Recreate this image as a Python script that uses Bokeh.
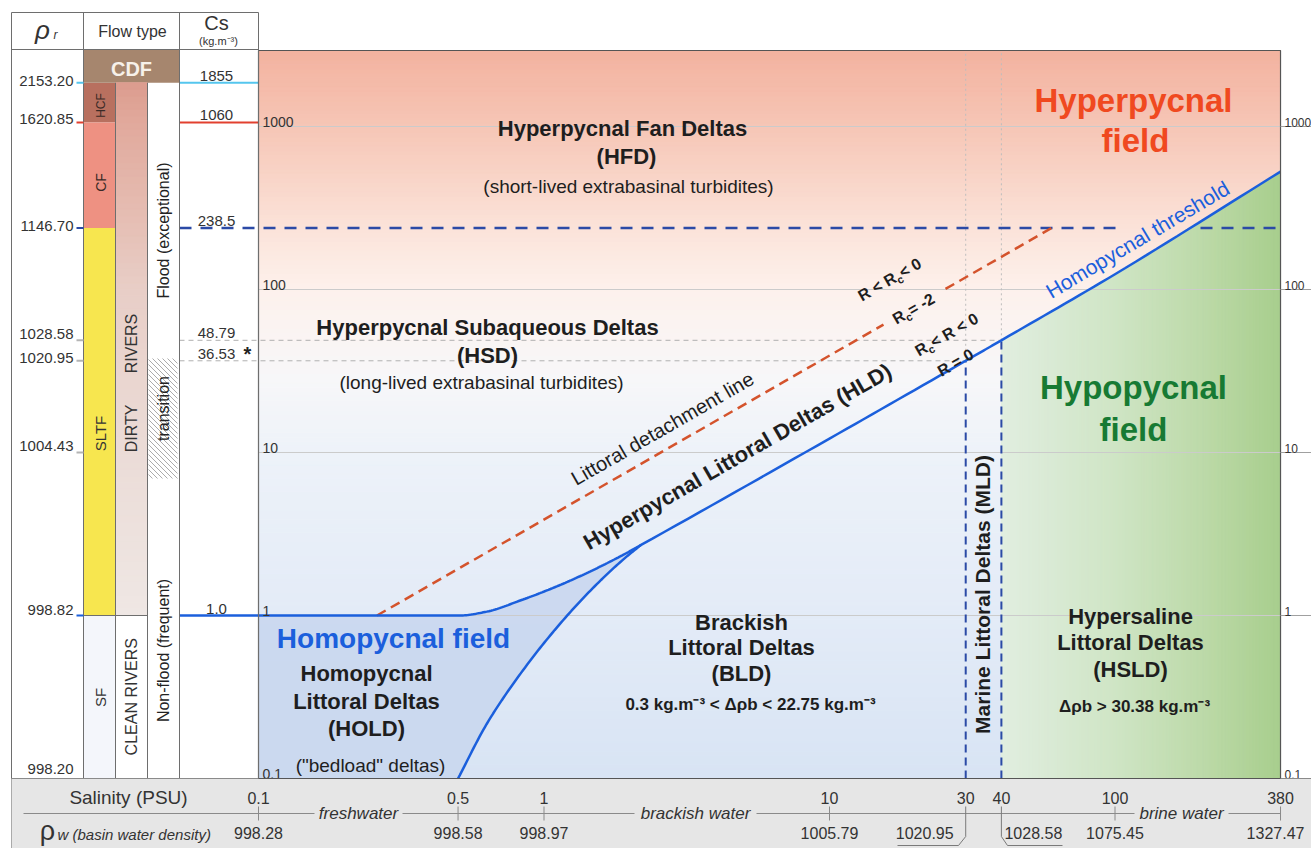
import math
import numpy as np
from bokeh.plotting import figure
from bokeh.models import Range1d
from bokeh.core.properties import value
from bokeh.embed import file_html
from bokeh.resources import INLINE

# ---------------------------------------------------------------- data
# basin-water salinity (PSU) and the matching basin-water density (kg/m3)
salinity_ticks = [0.1, 0.5, 1, 10, 30, 40, 100, 380]
salinity_labels = ["0.1", "0.5", "1", "10", "30", "40", "100", "380"]
rho_w_labels = ["998.28", "998.58", "998.97", "1005.79", "1020.95", "1028.58", "1075.45", "1327.47"]
water_types = ["freshwater", "brackish water", "brine water"]

# sediment concentration axis (Cs, kg/m3)
cs_ticks = [0.1, 1, 10, 100, 1000]
cs_tick_labels = ["0.1", "1", "10", "100", "1000"]

# reference concentrations and the equivalent river (flow) densities
cs_levels = [1855, 1060, 238.5, 48.79, 36.53, 10, 1.0, 0.1]
cs_level_labels = ["1855", "1060", "238.5", "48.79", "36.53", "", "1.0", ""]
rho_r_labels = ["2153.20", "1620.85", "1146.70", "1028.58", "1020.95", "1004.43", "998.82", "998.20"]
level_colors = ["#55c6ee", "#e2402f", "#2b4aa6", "#b4b4b4", "#b4b4b4", "#b4b4b4", "#1b5fdc", "#b4b4b4"]

# flow types by concentration interval
flow_types = ["HCF", "CF", "SLTF", "SF"]
flow_top = [1855, 1060, 238.5, 1.0]
flow_bottom = [1060, 238.5, 1.0, 0.1]
flow_colors = ["#b8705f", "#ee9182", "#f7e64f", "#f4f6fb"]

# homopycnal threshold (R = 0)
threshold_sal = [0.1, 0.3, 0.505, 0.63, 0.83, 1.09, 1.43, 1.88, 2.18, 10, 30, 40, 100, 380]
threshold_cs = [1.0, 1.0, 1.0, 1.056, 1.24, 1.49, 1.84, 2.34, 2.70, 12.17, 36.53, 48.79, 124.1, 528.8]

# lower limit of the homopycnal littoral deltas
hold_sal = [0.50, 0.63, 0.83, 1.09, 1.43, 1.88, 2.18]
hold_cs = [0.1, 0.216, 0.443, 0.814, 1.38, 2.18, 2.70]

# littoral detachment line (Rc = -2)
detach_sal = [0.26, 60.0]
detach_cs = [1.0, 238.5]

# marine littoral deltas limits
mld_sal = [30, 40]
mld_cs = [36.53, 48.79]

# ---------------------------------------------------------------- geometry
W, H = 1311, 848
X0, XPD = 258.0, 285.5      # screen x of S = 0.1, pixels per decade
Y0, YPD = 778.0, 163.0      # screen y of Cs = 0.1, pixels per decade


def fx(px):
    return 10 ** (-1 + (px - X0) / XPD)


def fy(py):
    return 10 ** (-1 + (Y0 - py) / YPD)


def pxs(s):
    return X0 + (math.log10(s) + 1) * XPD


def pyc(c):
    return Y0 - (math.log10(c) + 1) * YPD


def pchip_log(xs, ys, per=16):
    """Smooth monotone curve through the points, in log-log space."""
    x = np.log10(np.asarray(xs, float))
    y = np.log10(np.asarray(ys, float))
    h = np.diff(x)
    d = np.diff(y) / h
    n = len(x)
    m = np.zeros(n)
    m[0], m[-1] = d[0], d[-1]
    for k in range(1, n - 1):
        if d[k - 1] * d[k] <= 0:
            m[k] = 0.0
        else:
            w1, w2 = 2 * h[k] + h[k - 1], h[k] + 2 * h[k - 1]
            m[k] = (w1 + w2) / (w1 / d[k - 1] + w2 / d[k])
    ox, oy = [], []
    for k in range(n - 1):
        for t in np.linspace(0, 1, per, endpoint=False):
            h00 = 2 * t ** 3 - 3 * t ** 2 + 1
            h10 = t ** 3 - 2 * t ** 2 + t
            h01 = -2 * t ** 3 + 3 * t ** 2
            h11 = t ** 3 - t ** 2
            ox.append(x[k] + t * h[k])
            oy.append(h00 * y[k] + h10 * h[k] * m[k] + h01 * y[k + 1] + h11 * h[k] * m[k + 1])
    ox.append(x[-1])
    oy.append(y[-1])
    return list(10 ** np.array(ox)), list(10 ** np.array(oy))


def on_line(xs, ys, s):
    """Point of a straight log-log line at salinity s."""
    return 10 ** np.interp(math.log10(s), np.log10(xs), np.log10(ys))


S_LO, S_HI = salinity_ticks[0], salinity_ticks[-1]
C_LO = cs_ticks[0]
C_HI = fy(50)

FONT = "Liberation Sans"
INK = "#1e1e1e"
BLUE = "#1b5fdc"
DBLUE = "#2b4aa6"

p = figure(width=W, height=H, x_axis_type="log", y_axis_type="log",
           x_range=Range1d(fx(0), fx(W)), y_range=Range1d(fy(H), fy(0)),
           min_border=0, toolbar_location=None, output_backend="svg",
           x_axis_location=None, y_axis_location=None, title=None,
           outline_line_color=None, background_fill_color="white",
           border_fill_color="white")
p.xgrid.visible = False
p.ygrid.visible = False


def _rgb(h):
    return [int(h[i:i + 2], 16) for i in (1, 3, 5)]


def ramp(v, stops, colors):
    rgb = [np.interp(v, stops, [_rgb(c)[k] for c in colors]) for k in range(3)]
    return "#%02x%02x%02x" % tuple(int(round(x)) for x in rgb)


def ptext(px, py, s, size=16, color=INK, style="normal", align="center",
          baseline="middle", angle=0.0):
    p.text(x=[fx(px)], y=[fy(py)], text=[s], text_font=value(FONT),
           text_font_size=f"{size}px", text_color=color, text_font_style=style,
           text_align=align, text_baseline=baseline, angle=angle)


def pseg(x0, y0, x1, y1, color="#6e6e6e", width=1.0, dash="solid"):
    p.segment(x0=[fx(a) for a in x0], y0=[fy(b) for b in y0],
              x1=[fx(a) for a in x1], y1=[fy(b) for b in y1],
              line_color=color, line_width=width, line_dash=dash)


# bold glyph advances (1/1000 em) for the ratio labels
BOLD_ADV = {"R": 722, " ": 278, "<": 584, "=": 584, "c": 556, "0": 556, "-": 333, "2": 556}


def rich_rot(cx, cy, pieces, size, angle):
    """Rotated bold label made of (text, subscript) pieces, centred on (cx, cy)."""
    sub = 0.68
    widths = [sum(BOLD_ADV[ch] for ch in t) / 1000 * size * (sub if s else 1) for t, s in pieces]
    total = sum(widths)
    dx, dy = math.cos(angle), -math.sin(angle)
    nx, ny = math.sin(angle), math.cos(angle)
    pos = -total / 2
    for (t, s), w in zip(pieces, widths):
        off = 0.32 * size if s else 0.0
        ptext(cx + pos * dx + off * nx, cy + pos * dy + off * ny, t,
              round(size * sub) if s else size, style="bold", align="left", angle=angle)
        pos += w


thr_x, thr_y = pchip_log(threshold_sal, threshold_cs)
hold_x, hold_y = pchip_log(hold_sal, hold_cs)

# ---------------------------------------------------------------- main field backgrounds
bg_stops = [-1.0, 0.0, 1.0, 1.45, 2.0, 2.4, 3.0, 3.47]
bg_colors = ["#d8e4f4", "#e3ebf7", "#edf2f9", "#f7f7f9", "#fdf1ec", "#fbe2d8", "#f6c6b6", "#f3b29f"]
edges = np.linspace(math.log10(C_LO), math.log10(C_HI), 161)
band_cols = [ramp((a + b) / 2, bg_stops, bg_colors) for a, b in zip(edges[:-1], edges[1:])]
p.quad(left=S_LO, right=S_HI, bottom=10 ** edges[:-1], top=10 ** edges[1:],
       fill_color=band_cols, line_color=band_cols, line_width=1)


def thr(s):
    return 10 ** np.interp(np.log10(s), np.log10(thr_x), np.log10(thr_y))


# hypopycnal field: under the threshold, seaward of the marine deltas
g_edges = np.logspace(math.log10(mld_sal[1]), math.log10(S_HI), 91)
g_stops = [math.log10(40), 2.0, 2.3, math.log10(380)]
g_colors = ["#e1eee0", "#cfe5c5", "#bddaa9", "#a8ce8d"]
gx, gy, gc = [], [], []
for a, b in zip(g_edges[:-1], g_edges[1:]):
    gx.append([a, b, b, a])
    gy.append([C_LO, C_LO, float(thr(b)), float(thr(a))])
    gc.append(ramp(math.log10(math.sqrt(a * b)), g_stops, g_colors))
p.patches(gx, gy, fill_color=gc, line_color=gc, line_width=1)

# homopycnal littoral deltas
knee = threshold_sal[8]
upper = [(x, y) for x, y in zip(thr_x, thr_y) if x <= knee * 1.0001]
hx = [S_LO] + [u[0] for u in upper] + hold_x[::-1] + [S_LO]
hy = [C_LO] + [u[1] for u in upper] + hold_y[::-1] + [C_LO]
p.patch(hx, hy, fill_color="#c9d7ee", fill_alpha=0.9, line_color=None)

# grid lines
grid_cs = cs_ticks[1:]
p.segment(x0=S_LO, x1=S_HI, y0=grid_cs, y1=grid_cs, line_color="#cbcbcb", line_width=1)

# vertical guides at 30 and 40 PSU
p.segment(x0=mld_sal, x1=mld_sal, y0=mld_cs, y1=C_HI, line_color="#bdbdbd",
          line_width=1, line_dash="2 3")
p.segment(x0=mld_sal, x1=mld_sal, y0=C_LO, y1=mld_cs, line_color=DBLUE,
          line_width=2, line_dash="8 5")

# reference concentration lines
p.segment(x0=fx(179), x1=mld_sal, y0=mld_cs, y1=mld_cs, line_color="#b0b0b0",
          line_width=1, line_dash="5 4")
cdf_cs, hcf_cs, cf_cs = cs_levels[0], cs_levels[1], cs_levels[2]
p.segment(x0=[fx(179), fx(1200)], x1=[fx(1118), S_HI], y0=cf_cs, y1=cf_cs,
          line_color=DBLUE, line_width=2.5, line_dash="12 9")
p.segment(x0=fx(179), x1=fx(258), y0=cdf_cs, y1=cdf_cs, line_color=level_colors[0], line_width=2)
p.segment(x0=fx(179), x1=fx(258), y0=hcf_cs, y1=hcf_cs, line_color=level_colors[1], line_width=2)
p.segment(x0=fx(179), x1=S_LO, y0=1.0, y1=1.0, line_color=BLUE, line_width=2.5)

# detachment line, broken where its Rc label sits
gap_a, gap_b = fx(883), fx(945)
p.multi_line(xs=[[detach_sal[0], gap_a], [gap_b, detach_sal[1]]],
             ys=[[detach_cs[0], on_line(detach_sal, detach_cs, gap_a)],
                 [on_line(detach_sal, detach_cs, gap_b), detach_cs[1]]],
             line_color="#d4532c", line_width=2.5, line_dash="10 6")
p.line(thr_x, thr_y, line_color=BLUE, line_width=2.5)
p.line(hold_x, hold_y, line_color=BLUE, line_width=2.5)

# main frame
p.quad(left=S_LO, right=S_HI, bottom=C_LO, top=C_HI, fill_color=None,
       line_color="#555555", line_width=1.2)

# concentration ticks: inside left and outer right
p.text(x=fx(262), y=cs_ticks, text=cs_tick_labels, text_font=value(FONT),
       text_font_size="14px", text_color="#333333", text_align="left", text_baseline="bottom")
p.segment(x0=S_HI, x1=fx(W), y0=cs_ticks, y1=cs_ticks, line_color="#a0a0a0", line_width=1)
p.text(x=fx(1284), y=cs_ticks, text=cs_tick_labels, text_font=value(FONT),
       text_font_size="12px", text_color="#333333", text_align="left", text_baseline="bottom")

# ---------------------------------------------------------------- field labels
ang_thr = math.atan2(YPD * (math.log10(threshold_cs[-1]) - math.log10(threshold_cs[9])),
                     XPD * (math.log10(threshold_sal[-1]) - math.log10(threshold_sal[9])))
ang_det = math.atan2(YPD * (math.log10(detach_cs[1]) - math.log10(detach_cs[0])),
                     XPD * (math.log10(detach_sal[1]) - math.log10(detach_sal[0])))

ptext(622, 128, "Hyperpycnal Fan Deltas", 22, style="bold")
ptext(626, 156, "(HFD)", 22, style="bold")
ptext(628, 186, "(short-lived extrabasinal turbidites)", 19)

ptext(487, 327, "Hyperpycnal Subaqueous Deltas", 22, style="bold")
ptext(487, 355, "(HSD)", 22, style="bold")
ptext(481, 382, "(long-lived extrabasinal turbidites)", 19)

ptext(1133, 100, "Hyperpycnal", 33, color="#f0491f", style="bold")
ptext(1135, 140, "field", 33, color="#f0491f", style="bold")
ptext(1133, 387, "Hypopycnal", 33, color="#177a33", style="bold")
ptext(1133, 429, "field", 33, color="#177a33", style="bold")

ptext(1137, 239, "Homopycnal threshold", 21, color=BLUE, angle=ang_thr)
ptext(662, 428, "Littoral detachment line", 20, angle=ang_det)
ptext(737, 456, "Hyperpycnal Littoral Deltas (HLD)", 22, style="bold", angle=ang_det)
rich_rot(891, 278, [("R < R", False), ("c", True), (" < 0", False)], 16, ang_det)
rich_rot(915, 307, [("R", False), ("c", True), (" = -2", False)], 16, ang_det)
rich_rot(948, 333, [("R", False), ("c", True), (" < R < 0", False)], 16, ang_det)
rich_rot(955, 362, [("R = 0", False)], 16, ang_det)

ptext(393, 638, "Homopycnal field", 28, color=BLUE, style="bold")
ptext(366, 673, "Homopycnal", 22, style="bold")
ptext(366, 701, "Littoral Deltas", 22, style="bold")
ptext(366, 728, "(HOLD)", 22, style="bold")
ptext(370, 765, "(\"bedload\" deltas)", 19)

ptext(741, 622, "Brackish", 22, style="bold")
ptext(741, 647, "Littoral Deltas", 22, style="bold")
ptext(741, 673, "(BLD)", 22, style="bold")
ptext(750, 704, "0.3 kg.m⁻³ < Δρb < 22.75 kg.m⁻³", 17, style="bold")

ptext(982, 594, "Marine Littoral Deltas (MLD)", 21, style="bold", angle=math.pi / 2)

ptext(1130, 616, "Hypersaline", 22, style="bold")
ptext(1130, 642, "Littoral Deltas", 22, style="bold")
ptext(1130, 669, "(HSLD)", 22, style="bold")
ptext(1134, 706, "Δρb > 30.38 kg.m⁻³", 17, style="bold")

# ---------------------------------------------------------------- left table
# flow-type bars
p.quad(left=fx(83), right=fx(115), bottom=flow_bottom, top=flow_top,
       fill_color=flow_colors, line_color=None)
p.quad(left=fx(83), right=fx(179), bottom=cdf_cs, top=fy(49),
       fill_color="#a6866e", line_color=None)

# river type bar, dirty rivers shaded by load
r_edges = np.linspace(0.0, math.log10(cdf_cs), 81)
r_stops = [0.0, 1.0, 2.0, 2.38, 3.03, 3.27]
r_colors = ["#efe7e4", "#ebdcd7", "#e8cec7", "#e6c0b6", "#e1a99c", "#dc9c8e"]
r_cols = [ramp((a + b) / 2, r_stops, r_colors) for a, b in zip(r_edges[:-1], r_edges[1:])]
p.quad(left=fx(115), right=fx(147), bottom=10 ** r_edges[:-1], top=10 ** r_edges[1:],
       fill_color=r_cols, line_color=r_cols, line_width=1)

# hatched transition between flood regimes
hx0, hx1, hy0, hy1 = 148.0, 177.0, 358.0, 478.0
hs = []
for c in np.arange(hy0 - hx1, hy1 - hx0, 5.0):
    xa, xb = max(hx0, hy0 - c), min(hx1, hy1 - c)
    if xb > xa:
        hs.append((xa, xa + c, xb, xb + c))
pseg([s[0] for s in hs], [s[1] for s in hs], [s[2] for s in hs], [s[3] for s in hs],
     color="#ababab", width=1)

# table rules
one_py = pyc(1.0)
cdf_py = pyc(cdf_cs)
pseg([11, 83, 179, 258, 115, 147], [12, 12, 12, 12, cdf_py, cdf_py],
     [11, 83, 179, 258, 115, 147], [848, 778, 778, 778, 778, 778], color="#6e6e6e", width=1)
pseg([11, 11, 83], [12, 49, one_py], [258, 258, 147], [12, 49, one_py], color="#6e6e6e", width=1)

# headers
ptext(42, 29, "ρ", 26, color="#333333", style="italic")
ptext(55, 34, "r", 12, color="#333333", style="italic")
ptext(132, 31, "Flow type", 16, color="#333333")
ptext(216, 22, "Cs", 20, color="#333333")
ptext(218, 40, "(kg.m⁻³)", 11, color="#333333")

ptext(131, 68, "CDF", 20, color="#f7f1ea", style="bold")
ptext(100, 105, "HCF", 12, color="#3a2a26", angle=math.pi / 2)
ptext(100, 182, "CF", 14, color="#3a2a26", angle=math.pi / 2)
ptext(100, 433, "SLTF", 15, color="#333333", angle=math.pi / 2)
ptext(100, 697, "SF", 15, color="#333333", angle=math.pi / 2)
ptext(131, 343, "RIVERS", 16, color="#333333", angle=math.pi / 2)
ptext(131, 428, "DIRTY", 16, color="#333333", angle=math.pi / 2)
ptext(131, 694, "CLEAN  RIVERS", 16, color="#333333", angle=math.pi / 2)
ptext(163, 230, "Flood (exceptional)", 16, color="#222222", angle=math.pi / 2)
ptext(163, 408, "transition", 16, color="#222222", angle=math.pi / 2)
ptext(163, 650, "Non-flood (frequent)", 16, color="#222222", angle=math.pi / 2)

# density ticks and labels
tick_lv = cs_levels[:-1]
p.segment(x0=fx(76), x1=fx(83), y0=tick_lv, y1=tick_lv,
          line_color=level_colors[:-1], line_width=2)
rho_lift = [2, 3, 2, 6, 3, 7, 6, 10]
p.text(x=fx(73), y=[fy(pyc(c) - d) for c, d in zip(cs_levels, rho_lift)], text=rho_r_labels,
       text_font=value(FONT), text_font_size="15px", text_color="#333333",
       text_align="right", text_baseline="middle")
cs_lab_y = [fy(pyc(c) - 2) for c, t in zip(cs_levels, cs_level_labels) if t]
cs_lab_t = [t for t in cs_level_labels if t]
p.text(x=fx(216), y=cs_lab_y, text=cs_lab_t, text_font=value(FONT),
       text_font_size="15px", text_color="#333333", text_align="center",
       text_baseline="bottom")
# marker next to the marine concentration (36.53)
ptext(247, pyc(cs_levels[4]) - 7, "*", 20, color="#222222", style="bold")

# ---------------------------------------------------------------- salinity / water density band
p.quad(left=fx(11), right=fx(W), bottom=fy(H), top=fy(778), fill_color="#e6e6e6", line_color=None)
pseg([11], [778], [W], [778], color="#8a8a8a", width=1)
pseg([258], [778], [1280], [778], color="#555555", width=1.2)

ptext(128, 797, "Salinity (PSU)", 19, color="#333333")
p.text(x=salinity_ticks, y=fy(797), text=salinity_labels, text_font=value(FONT),
       text_font_size="16px", text_color="#333333", text_align="center", text_baseline="middle")

# water type rule with gaps for the names
pseg([23, 402, 756, 1228], [813] * 4, [314, 634, 1134, 1280], [813] * 4, color="#8a8a8a", width=1)
for name, cx in zip(water_types, [358, 695, 1181]):
    ptext(cx, 813, name, 17, color="#333333", style="italic")

plain = [s for s in salinity_ticks if s not in mld_sal]
p.segment(x0=plain, x1=plain, y0=fy(806), y1=fy(820), line_color="#8a8a8a", line_width=1)
x30, x40 = pxs(mld_sal[0]), pxs(mld_sal[1])
pseg([x30, x30, 958, x40, x40, 1007], [806, 836, 845, 806, 836, 845],
     [x30, 958, 897, x40, 1007, 1062], [836, 845, 845, 836, 845, 845], color="#7a7a7a", width=1)

label_shift = [0, 0, 0, 0, -41, 32, 0, -5]
p.text(x=[fx(pxs(s) + d) for s, d in zip(salinity_ticks, label_shift)], y=fy(832),
       text=rho_w_labels, text_font=value(FONT), text_font_size="16px", text_color="#333333",
       text_align="center", text_baseline="middle")

ptext(47, 830, "ρ", 27, color="#333333")
ptext(57, 834, "w (basin water density)", 15, color="#333333", style="italic", align="left")

open("out.html", "w").write(file_html(p, INLINE))
